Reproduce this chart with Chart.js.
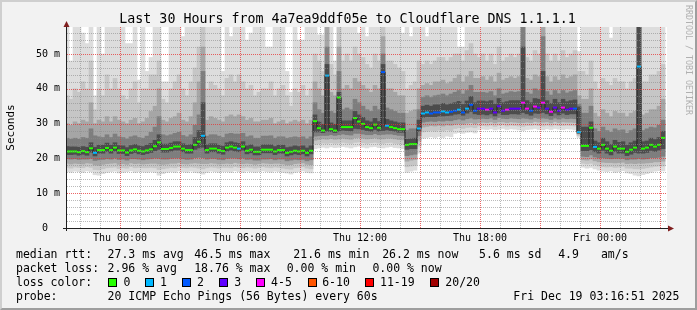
<!DOCTYPE html>
<html>
<head>
<meta charset="utf-8">
<script src="https://cdn.jsdelivr.net/npm/chart.js@4.4.1/dist/chart.umd.min.js"></script>
<style>
html,body{margin:0;padding:0;background:#f2f2f2;}
#wrap{position:relative;width:697px;height:310px;background:#f2f2f2;overflow:hidden;font-family:'DejaVu Sans Mono',monospace;color:#000;}
#frame{position:absolute;left:0;top:0;width:697px;height:310px;box-sizing:border-box;border-top:2px solid #cfcfcf;border-left:2px solid #cfcfcf;border-right:2px solid #9e9e9e;border-bottom:2px solid #9e9e9e;pointer-events:none;}
canvas{position:absolute;left:0;top:0;}
.t{position:absolute;white-space:pre;font-size:11.5px;line-height:14px;}
.box{position:absolute;width:9px;height:9px;box-sizing:border-box;border:1px solid #000;}
#title{position:absolute;left:0;top:10px;width:695px;text-align:center;font-size:13.3px;line-height:18px;white-space:pre;}
#tag{position:absolute;left:684px;top:5px;writing-mode:vertical-rl;font-size:8.3px;line-height:9px;color:#b0b0b0;white-space:pre;}
</style>
</head>
<body>
<div id="wrap">
  <canvas id="c" width="697" height="310"></canvas>
  <div id="title">Last 30 Hours from 4a7ea9ddf05e to Cloudflare DNS 1.1.1.1</div>
  <div id="tag">RRDTOOL / TOBI OETIKER</div>
  <div id="legend"></div>
  <div id="frame"></div>
</div>
<script>
// ---------- DATA ----------
// time: minutes relative to Thu 00:00, one RRD step every 12 minutes
const STEP_MINUTES = 12;
const FIRST_STEP_MINUTE = -159;

// median RTT per step (ms)
const median = [
22.0,22.0,22.0,21.8,22.1,21.8,22.9,21.6,22.4,22.4,
23.0,22.4,23.1,22.3,22.3,21.7,22.3,22.6,22.2,22.0,
22.3,22.6,23.5,24.6,22.7,22.7,23.0,23.4,23.4,22.8,
22.4,22.4,23.9,24.8,26.5,22.4,22.8,22.8,22.4,22.1,
23.1,23.4,23.1,22.8,23.4,22.2,22.5,21.9,21.9,22.5,
22.5,22.5,22.0,22.4,22.4,21.6,21.9,22.2,22.0,22.2,21.6,22.2,
30.7,28.7,28.0,43.8,28.4,28.0,37.5,29.0,29.0,29.0,31.6,30.6,29.9,29.0,28.7,29.7,28.8,44.8,29.4,29.0,28.7,28.4,28.4,
23.9,24.1,24.1,
28.6,32.9,33.2,32.9,33.2,33.2,33.5,33.2,33.4,33.7,34.0,33.2,34.3,35.4,33.7,
34.3,34.3,34.0,34.3,33.2,35.0,33.7,34.0,34.3,34.3,34.3,36.0,34.3,33.7,34.9,34.6,36.0,34.3,33.4,34.6,33.7,34.6,34.0,34.3,34.3,
27.6,23.6,23.6,28.8,23.3,22.8,23.9,22.8,22.2,23.4,22.8,22.8,21.9,22.5,23.1,46.4,22.8,23.1,23.9,23.4,23.9,25.9,
null];

// lost pings bucket per step (0 = 0, 1 = 1, 2 = 2, 3 = 3, 4 = 4-5)
const lossBucket = [
0,0,0,0,0,0,0,1,0,0,
0,0,0,0,0,0,0,0,0,0,
0,0,0,0,0,0,0,0,0,0,
0,0,0,0,1,0,0,0,0,0,
0,0,0,1,0,0,0,0,0,0,
0,0,0,0,0,0,0,0,0,0,0,0,
0,0,0,1,0,0,0,0,0,0,0,0,0,0,0,0,0,2,1,0,0,0,0,
0,0,0,
1,1,1,2,2,2,1,1,2,2,1,2,1,2,2,
3,3,4,3,3,3,3,4,3,3,3,4,4,2,4,3,4,3,4,3,3,4,3,3,2,
1,0,0,0,1,0,0,0,0,0,0,0,0,0,0,1,0,0,0,0,0,0,
0];

// smoke: sorted ping RTTs (ms), pairs drawn as nested grey bands
const ping1 = [
16.2,16.0,16.3,16.2,16.0,16.4,16.2,15.3,15.2,15.6,
16.0,16.2,16.3,15.8,16.0,16.2,16.4,16.0,16.2,16.1,
16.0,16.2,16.0,15.2,15.6,16.0,16.2,16.0,16.4,16.2,
16.0,16.3,16.0,15.8,15.5,16.0,16.3,16.2,16.0,16.2,
16.2,16.0,16.4,16.2,16.0,16.3,16.2,16.0,16.2,16.4,
16.2,16.0,16.3,16.2,16.0,15.8,15.5,16.0,16.2,16.4,16.0,15.8,
22.8,23.0,23.2,23.0,23.3,23.1,23.2,23.4,23.2,23.0,23.3,23.5,23.2,23.0,23.3,23.4,23.1,23.0,23.2,23.4,23.1,23.0,22.8,
16.0,16.3,16.6,
21.5,25.8,26.0,26.2,26.0,26.3,26.0,26.4,26.2,27.2,27.4,27.2,27.5,27.6,27.3,
28.2,28.4,28.3,28.5,28.2,28.4,28.6,28.3,28.5,28.4,28.2,28.0,28.3,28.4,28.6,28.3,28.2,28.5,28.3,28.6,28.4,28.3,28.5,28.4,28.2,
26.0,17.5,17.2,17.4,17.0,16.6,16.3,16.2,16.4,16.0,16.2,16.5,15.8,15.6,15.2,15.0,15.3,15.6,16.0,16.3,16.5,16.4,
null];
const ping3 = [
17.4,17.2,17.5,17.4,17.3,17.6,17.4,16.8,16.7,17.0,
17.3,17.4,17.5,17.1,17.3,17.2,17.6,17.3,17.4,17.3,
17.3,17.4,17.3,16.8,17.0,17.2,17.4,17.3,17.6,17.4,
17.3,17.5,17.4,17.2,17.0,17.3,17.5,17.4,17.2,17.4,
17.4,17.3,17.6,17.4,17.3,17.5,17.4,17.2,17.4,17.6,
17.4,17.3,17.5,17.4,17.2,17.0,16.9,17.3,17.4,17.6,17.2,17.0,
24.0,24.2,24.4,24.3,24.5,24.3,24.4,24.6,24.4,24.3,24.6,24.7,24.5,24.3,24.5,24.6,24.4,24.3,24.5,24.6,24.3,24.2,24.0,
17.6,17.8,18.0,
23.5,27.6,27.8,28.0,27.8,28.1,27.9,28.2,28.0,28.6,28.8,28.6,28.9,29.0,28.8,
29.3,29.4,29.3,29.5,29.2,29.5,29.6,29.3,29.5,29.4,29.3,29.2,29.4,29.4,29.6,29.4,29.3,29.5,29.3,29.6,29.4,29.4,29.5,29.4,29.3,
26.5,18.6,18.4,18.6,18.2,17.8,17.6,17.5,17.6,17.4,17.5,17.7,17.2,17.2,17.0,17.0,17.1,17.3,17.5,17.7,17.8,17.8,
null];
const ping5 = [
18.6,18.4,18.6,18.5,18.4,18.7,18.6,18.1,18.0,18.3,
18.5,18.6,18.7,18.3,18.5,18.3,18.7,18.5,18.6,18.4,
18.5,18.6,18.6,18.4,18.3,18.4,18.6,18.6,18.8,18.5,
18.4,18.6,18.7,18.6,18.5,18.5,18.7,18.6,18.4,18.5,
18.6,18.5,18.8,18.6,18.5,18.6,18.5,18.3,18.5,18.7,
18.6,18.5,18.6,18.6,18.4,18.1,18.2,18.5,18.6,18.7,18.3,18.2,
25.2,25.4,25.6,25.5,25.7,25.5,25.6,25.8,25.6,25.5,25.9,26.0,25.8,25.6,25.7,25.9,25.6,25.6,25.8,25.8,25.6,25.4,25.3,
19.2,19.5,19.7,
25.0,29.0,29.2,29.4,29.3,29.5,29.3,29.6,29.5,29.8,30.0,29.8,30.1,30.3,30.0,
30.3,30.4,30.3,30.5,30.2,30.5,30.5,30.3,30.5,30.4,30.3,30.3,30.4,30.3,30.6,30.4,30.4,30.5,30.2,30.6,30.3,30.5,30.4,30.4,30.3,
27.0,19.6,19.5,19.8,19.3,19.0,18.9,18.8,18.8,18.7,18.8,18.9,18.5,18.6,18.5,18.6,18.6,18.7,18.8,19.0,19.0,19.2,
null];
const ping7 = [
19.9,19.8,19.9,19.7,19.8,19.8,20.0,19.4,19.6,19.7,
19.9,19.8,20.1,19.7,19.8,19.5,19.9,19.9,19.8,19.6,
19.8,19.9,20.1,20.0,19.8,19.8,20.0,20.1,20.1,19.9,
19.7,19.8,20.2,20.3,20.2,19.8,20.0,20.0,19.7,19.6,
20.0,20.1,20.1,19.9,20.1,19.7,19.8,19.5,19.5,19.8,
19.8,19.9,19.6,19.8,19.8,19.3,19.5,19.7,19.6,19.7,19.3,19.6,
26.4,26.5,26.6,26.6,26.8,26.6,26.8,27.0,26.8,26.7,27.2,27.2,27.0,26.8,26.8,27.1,26.8,26.9,27.0,27.0,26.8,26.6,26.5,
20.8,21.0,21.2,
26.5,30.4,30.6,30.7,30.6,30.8,30.7,30.9,30.8,31.1,31.3,31.0,31.4,31.6,31.3,
31.4,31.5,31.4,31.6,31.2,31.7,31.5,31.4,31.6,31.5,31.4,31.6,31.5,31.3,31.7,31.5,31.6,31.5,31.2,31.6,31.3,31.6,31.4,31.5,31.4,
27.2,20.6,20.5,21.0,20.4,20.1,20.2,20.0,19.9,20.0,20.0,20.0,19.6,19.8,19.8,20.0,19.8,19.9,20.2,20.2,20.3,20.6,
null];
const ping9 = [
21.1,21.1,21.2,20.9,21.2,20.9,21.8,20.7,21.5,21.5,
22.0,21.5,22.1,21.4,21.4,20.8,21.4,21.7,21.3,21.1,
21.4,21.7,22.2,22.6,21.8,21.8,22.1,22.4,22.4,21.9,
21.5,21.5,22.6,23.0,23.2,21.5,21.9,21.9,21.5,21.2,
22.1,22.4,22.1,21.9,22.4,21.3,21.6,21.0,21.0,21.6,
21.6,21.6,21.1,21.5,21.5,20.7,21.0,21.3,21.1,21.3,20.7,21.3,
27.6,27.6,27.4,27.8,27.7,27.4,27.8,28.1,28.0,27.9,28.6,28.5,28.3,28.0,27.8,28.3,27.8,28.0,28.2,28.0,27.8,27.5,27.5,
22.6,22.8,22.8,
27.8,31.8,32.0,32.0,32.0,32.2,32.2,32.3,32.4,32.7,32.8,32.4,33.0,33.5,32.8,
32.6,32.7,32.5,32.8,32.2,33.0,32.6,32.6,32.8,32.8,32.7,33.2,32.8,32.4,33.0,32.9,33.2,32.8,32.3,33.0,32.5,33.0,32.6,32.8,32.8,
27.3,22.2,22.2,22.5,21.9,21.5,22.3,21.5,21.0,22.0,21.5,21.5,20.8,21.2,21.7,21.5,21.5,21.7,22.3,22.0,22.4,22.8,
null];
const ping12 = [
23.4,23.3,23.3,23.2,23.4,23.2,24.5,23.2,23.8,23.8,
24.4,23.8,24.5,23.7,23.6,23.1,23.7,24.0,23.6,23.4,
23.8,24.3,25.2,26.8,24.1,24.1,24.4,24.8,24.8,24.2,
23.8,24.0,26.0,28.0,36.0,23.9,24.2,24.2,23.8,23.5,
24.5,24.8,24.5,24.3,24.8,23.6,23.9,23.3,23.3,23.9,
23.9,23.9,23.4,23.8,23.8,23.1,23.3,23.6,23.4,23.6,23.0,23.6,
32.5,30.5,29.8,47.0,30.2,29.8,39.0,30.8,30.8,30.8,33.5,32.5,31.8,30.8,30.5,31.5,30.6,47.0,31.2,30.8,30.5,30.2,30.2,
25.5,25.6,25.8,
31.0,35.0,35.3,35.0,35.4,35.4,35.8,35.4,35.7,36.0,36.4,35.5,36.5,37.8,36.0,
36.5,36.5,36.3,36.6,35.6,37.2,36.0,36.3,36.6,36.6,36.6,52.0,36.6,36.0,37.2,37.0,45.0,36.6,35.8,37.0,36.0,37.0,36.3,36.6,36.8,
34.8,29.0,29.0,30.5,25.0,24.5,25.8,24.8,24.0,25.2,24.6,24.8,23.8,24.5,25.0,58.0,24.8,25.0,25.8,25.4,26.0,27.8,
null];
const ping14 = [
25.8,25.5,25.8,25.5,26.0,25.8,28.5,26.5,26.2,26.0,
26.8,26.0,27.0,26.2,26.0,25.6,26.2,26.5,26.0,25.8,
26.4,27.5,29.0,32.0,26.8,26.5,26.8,27.2,27.5,26.6,
26.2,26.8,29.5,32.5,45.0,26.4,26.8,26.8,26.4,26.0,
27.0,27.2,27.0,27.0,27.2,26.2,26.5,25.8,25.8,26.4,
26.4,26.5,25.8,26.2,26.2,25.8,26.0,26.2,26.0,26.2,25.6,26.2,
36.0,34.0,33.0,52.0,33.5,33.0,45.0,34.0,34.5,34.0,37.0,36.0,35.0,34.0,33.5,35.0,34.0,50.0,34.5,34.0,33.5,33.0,33.0,
28.0,28.5,28.5,
34.0,37.5,38.0,37.5,38.0,38.2,38.5,38.0,38.5,39.0,39.5,38.5,39.5,41.0,39.0,
39.0,39.0,38.8,39.2,38.0,40.0,38.5,38.8,39.2,39.0,39.2,58.0,39.0,38.5,40.0,39.5,55.0,39.2,38.2,39.5,38.6,39.5,38.8,39.2,39.5,
35.5,33.0,33.0,35.0,28.5,27.8,29.0,28.0,27.5,28.5,28.0,28.2,27.2,28.0,28.5,58.0,28.0,28.5,29.0,28.8,29.5,31.0,
null];
const ping16 = [
30.0,29.5,30.5,30.0,31.0,30.5,36.0,30.0,31.0,30.5,
32.0,30.5,32.0,31.0,30.5,30.0,31.0,31.5,30.0,30.5,
31.5,33.5,35.0,40.0,31.0,30.5,31.5,32.0,33.0,31.0,
30.5,32.0,36.0,42.0,52.0,31.0,32.0,31.5,31.0,30.5,
32.0,32.5,32.0,32.5,32.0,31.0,31.5,30.5,30.5,31.0,
31.0,31.5,30.0,30.5,31.0,30.0,30.5,31.0,30.5,31.0,30.0,31.0,
42.0,40.0,38.0,58.0,39.0,38.0,52.0,40.0,41.0,40.0,43.0,42.0,41.0,40.0,39.0,41.0,40.0,55.0,40.0,40.0,39.0,38.0,38.0,
33.0,33.5,34.0,
40.0,41.0,41.5,41.0,42.0,42.0,42.5,41.5,42.0,43.0,44.0,42.0,43.5,45.0,43.0,
43.0,43.5,42.5,43.5,42.0,44.5,42.5,43.0,43.5,43.0,43.5,58.0,43.0,42.5,44.0,43.5,58.0,43.5,42.0,43.5,42.5,44.0,43.0,43.5,44.0,
38.0,37.0,37.0,40.0,33.0,32.0,34.0,33.0,32.0,33.5,33.0,33.0,32.0,33.0,33.5,58.0,32.5,33.0,34.0,34.0,35.0,37.0,
null];
const ping18 = [
38.0,37.0,40.0,39.0,42.0,40.0,48.0,34.0,40.0,38.0,
44.0,40.0,43.0,40.0,38.0,37.0,40.0,42.0,36.0,40.0,
40.0,44.0,44.0,48.0,37.0,36.0,40.0,42.0,44.0,40.0,
38.0,42.0,46.0,52.0,58.0,40.0,42.0,41.0,40.0,38.0,
43.0,44.0,42.0,44.0,42.0,40.0,41.0,38.0,39.0,40.0,
40.0,42.0,38.0,40.0,41.0,38.0,35.0,40.0,39.0,41.0,38.0,40.0,
50.0,48.0,45.0,58.0,47.0,44.0,58.0,48.0,50.0,48.0,52.0,50.0,49.0,47.0,46.0,50.0,48.0,58.0,48.0,48.0,47.0,46.0,45.0,
40.0,41.0,42.0,
48.0,47.0,48.0,47.0,48.0,49.0,49.0,48.0,49.0,50.0,50.0,48.0,51.0,53.0,50.0,
49.0,50.0,48.0,50.0,47.0,52.0,48.0,49.0,50.0,49.0,50.0,58.0,49.0,48.0,51.0,50.0,58.0,50.0,48.0,50.0,48.0,51.0,49.0,50.0,51.0,
45.0,45.0,44.0,48.0,42.0,40.0,43.0,42.0,41.0,43.0,42.0,42.0,40.0,42.0,43.0,58.0,42.0,42.0,44.0,44.0,45.0,47.0,
null];
const ping20 = [
58.0,48.0,58.0,58.0,56.0,53.0,58.0,38.0,58.0,50.0,
58.0,58.0,58.0,58.0,58.0,53.0,53.0,58.0,42.5,58.0,
45.0,49.0,58.0,58.0,42.0,42.0,58.0,58.0,58.0,55.0,
58.0,58.0,58.0,58.0,58.0,58.0,58.0,58.0,58.0,45.0,
58.0,55.0,58.0,58.0,58.0,54.0,56.0,58.0,58.0,58.0,
52.0,52.0,58.0,58.0,58.0,45.0,39.0,58.0,54.0,54.0,58.0,58.0,
58.0,55.5,55.5,58.0,58.0,48.0,58.0,58.0,58.0,58.0,58.0,56.0,58.0,55.0,58.0,58.0,58.0,58.0,58.0,58.0,58.0,58.0,56.0,
58.0,55.0,58.0,
58.0,58.0,55.0,58.0,58.0,58.0,58.0,58.0,58.0,58.0,52.0,52.0,58.0,58.0,58.0,
58.0,58.0,58.0,58.0,58.0,58.0,58.0,58.0,58.0,58.0,58.0,58.0,58.0,58.0,58.0,58.0,58.0,58.0,58.0,58.0,58.0,58.0,58.0,58.0,58.0,
50.7,58.0,58.0,58.0,58.0,58.0,58.0,58.0,54.6,58.0,58.0,58.0,58.0,58.0,58.0,58.0,58.0,58.0,58.0,58.0,58.0,58.0,
null];

// axis labels
const xTickMinutes = [0, 360, 720, 1080, 1440];
const xTickLabels = ["Thu 00:00", "Thu 06:00", "Thu 12:00", "Thu 18:00", "Fri 00:00"];
const yTickValues = [0, 10, 20, 30, 40, 50];
const yTickLabels = ["0  ", "10 m", "20 m", "30 m", "40 m", "50 m"];

// legend texts
const lossColorLabels = ["0", "1", "2", "3", "4-5", "6-10", "11-19", "20/20"];
const lossColors = ["#26ff00", "#00b8ff", "#0059ff", "#5e00ff", "#ff00fe", "#ff5500", "#ff0000", "#a10000"];
const rttStats = ["27.3 ms avg", "46.5 ms max", "21.6 ms min", "26.2 ms now", "5.6 ms sd", "4.9", "am/s"];
const lossStats = ["2.96 % avg", "18.76 % max", "0.00 % min", "0.00 % now"];
const probeText = "20 ICMP Echo Pings (56 Bytes) every 60s";
const stampText = "Fri Dec 19 03:16:51 2025";

// ---------- STYLE / LAYOUT ----------
const X_MIN = -159, X_MAX = 1641, Y_MAX = 57.7586;
const SMOKE_SHADES = ["#dddddd", "#c6c6c6", "#a6a6a6", "#7e7e7e", "#4c4c4c"];
const MONO = "'DejaVu Sans Mono', monospace";

const stepTimes = median.map((_, i) => FIRST_STEP_MINUTE + i * STEP_MINUTES);
const bandPairs = [[ping1, ping20], [ping3, ping18], [ping5, ping16], [ping7, ping14], [ping9, ping12]];

const datasets = [];
bandPairs.forEach(([lo, hi], j) => {
  const pts = [];
  stepTimes.forEach((t, i) => { if (lo[i] != null && hi[i] != null) pts.push({x: t, y: [lo[i], hi[i]]}); });
  datasets.push({
    type: 'bar', data: pts, backgroundColor: SMOKE_SHADES[j], borderWidth: 0,
    barPercentage: 1, categoryPercentage: 1, grouped: false, order: 20 - j
  });
});
const medPts = stepTimes.map((t, i) => ({x: t, y: median[i]}));
datasets.push({
  type: 'line', data: medPts, borderColor: '#202020', borderWidth: 1, stepped: 'middle',
  pointRadius: 0, spanGaps: false, order: 2
});
datasets.push({
  type: 'line', data: medPts, showLine: false, pointStyle: 'line', pointRadius: 2, pointHoverRadius: 2,
  pointBorderWidth: 2, pointBorderColor: lossBucket.map(b => lossColors[b]), order: 1
});

const xGrid = [];
for (let m = -120; m <= 1620; m += 60) xGrid.push(m);
const yGrid = [];
for (let v = 2; v <= 56; v += 2) yGrid.push(v);

const GRID_MINOR = 'rgba(140,140,140,0.6)';
const GRID_MAJOR = 'rgba(230,50,50,0.75)';

const rrdFrame = {
  id: 'rrdFrame',
  beforeDraw(chart) {
    const {ctx, chartArea: a} = chart;
    ctx.save();
    ctx.fillStyle = '#ffffff';
    ctx.fillRect(a.left, a.top, a.right - a.left, a.bottom - a.top);
    ctx.restore();
  },
  afterDatasetsDraw(chart) {
    // RRD-style dotted grid over the graph, placed through the chart's own scales
    const {ctx, chartArea: a, scales: {x, y}} = chart;
    ctx.save();
    ctx.lineWidth = 1;
    ctx.setLineDash([1, 1]);
    const drawSet = (major) => {
      ctx.strokeStyle = major ? GRID_MAJOR : GRID_MINOR;
      ctx.beginPath();
      xGrid.forEach(v => {
        if ((v % 180 === 0) !== major) return;
        const px = Math.round(x.getPixelForValue(v)) + 0.5;
        ctx.moveTo(px, a.top); ctx.lineTo(px, a.bottom);
      });
      yGrid.forEach(v => {
        if ((v % 10 === 0) !== major) return;
        const py = Math.round(y.getPixelForValue(v)) + 0.5;
        ctx.moveTo(a.left, py); ctx.lineTo(a.right, py);
      });
      ctx.stroke();
    };
    drawSet(false);
    drawSet(true);
    ctx.restore();
  },
  afterDraw(chart) {
    const {ctx, chartArea: a} = chart;
    ctx.save();
    ctx.strokeStyle = '#1f1f1f';
    ctx.lineWidth = 1;
    ctx.beginPath();
    ctx.moveTo(a.left - 4, a.bottom + 0.5); ctx.lineTo(a.right + 2, a.bottom + 0.5);
    ctx.moveTo(a.left - 0.5, a.bottom + 3); ctx.lineTo(a.left - 0.5, a.top - 1);
    ctx.stroke();
    ctx.fillStyle = '#801f1f';
    ctx.beginPath();
    ctx.moveTo(a.right + 7, a.bottom + 0.5); ctx.lineTo(a.right + 1, a.bottom - 2.5); ctx.lineTo(a.right + 1, a.bottom + 3.5);
    ctx.closePath(); ctx.fill();
    ctx.beginPath();
    ctx.moveTo(a.left - 0.5, a.top - 6); ctx.lineTo(a.left - 3.5, a.top); ctx.lineTo(a.left + 2.5, a.top);
    ctx.closePath(); ctx.fill();
    ctx.restore();
  }
};

new Chart(document.getElementById('c'), {
  type: 'bar',
  data: {datasets},
  options: {
    responsive: false, animation: false, devicePixelRatio: 1, events: [],
    layout: {padding: {left: 0, right: 30, top: 27, bottom: 62}},
    plugins: {legend: {display: false}, tooltip: {enabled: false}, title: {display: false}},
    scales: {
      x: {
        type: 'linear', min: X_MIN, max: X_MAX, offset: false,
        afterBuildTicks: s => { s.ticks = xTickMinutes.map(v => ({value: v})); },
        afterFit: s => { s.height = 20; },
        grid: {display: false, offset: false, drawTicks: false},
        border: {display: false},
        ticks: {autoSkip: false, maxRotation: 0, minRotation: 0, padding: 4, color: '#000',
          font: {family: MONO, size: 10},
          callback: v => { const i = xTickMinutes.indexOf(v); return i >= 0 ? xTickLabels[i] : ''; }}
      },
      y: {
        type: 'linear', min: 0, max: Y_MAX,
        afterBuildTicks: s => { s.ticks = yTickValues.map(v => ({value: v})); },
        afterFit: s => { s.width = 67; },
        grid: {display: false, drawTicks: false},
        border: {display: false},
        ticks: {autoSkip: false, padding: 7, color: '#000', font: {family: MONO, size: 10},
          callback: v => { const i = yTickValues.indexOf(v); return i >= 0 ? yTickLabels[i] : ''; }},
        title: {display: true, text: 'Seconds', color: '#000', font: {family: MONO, size: 11},
          padding: {top: 5, bottom: 0}}
      }
    }
  },
  plugins: [rrdFrame]
});

// ---------- LEGEND (HTML text) ----------
const leg = document.getElementById('legend');
function txt(s, x, cy) {
  const d = document.createElement('div');
  d.className = 't'; d.textContent = s;
  d.style.left = x + 'px'; d.style.top = (cy - 7) + 'px';
  leg.appendChild(d);
}
const rowY = [254, 268, 282, 296];
txt('median rtt:', 16, rowY[0]);
[107.6, 194.2, 293.3, 382.2, 479.1, 558.2, 600.9].forEach((x, i) => txt(rttStats[i], x, rowY[0]));
txt('packet loss:', 16, rowY[1]);
[107.6, 194.2, 286.7, 372.4].forEach((x, i) => txt(lossStats[i], x, rowY[1]));
txt('loss color:', 16, rowY[2]);
const boxX = [108, 145.3, 182.2, 219.1, 256.4, 307.6, 365.3, 430.2];
const labX = [123.6, 160, 196.9, 234.2, 271.1, 322.2, 380, 445.3];
boxX.forEach((x, i) => {
  const b = document.createElement('div');
  b.className = 'box'; b.style.left = x + 'px'; b.style.top = '278px'; b.style.background = lossColors[i];
  leg.appendChild(b);
  txt(lossColorLabels[i], labX[i], rowY[2]);
});
txt('probe:', 16, rowY[3]);
txt(probeText, 107.6, rowY[3]);
txt(stampText, 513.3, rowY[3]);
</script>
</body>
</html>
